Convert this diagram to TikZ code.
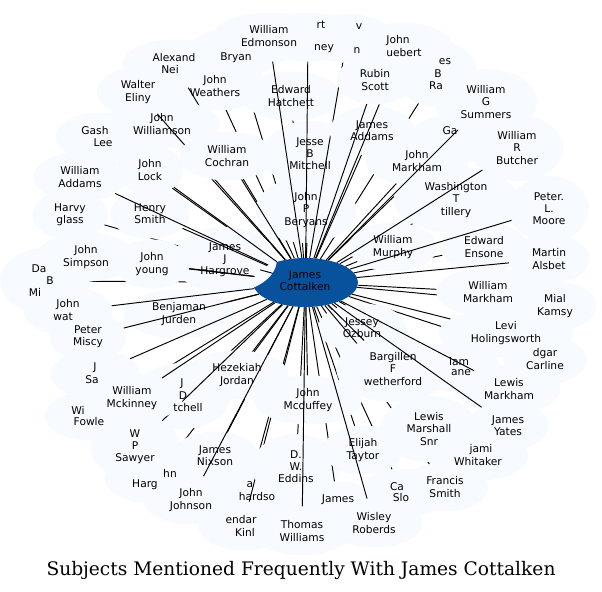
\documentclass[tikz,border=0pt]{standalone}
\usepackage{fontspec}
\usetikzlibrary{shapes.geometric}
\newfontfamily\nf{DejaVu Sans}
\newfontfamily\tf{DejaVu Serif}
\definecolor{bubble}{HTML}{F7FBFF}
\definecolor{hub}{HTML}{08519C}
\begin{document}
\begin{tikzpicture}[x=1bp,y=-1bp,
  bub/.style n args={2}{ellipse,fill=bubble,inner sep=0pt,minimum width=#1bp,minimum height=#2bp},
  hubnode/.style={ellipse,fill=hub,inner sep=0pt,minimum width=105bp,minimum height=49bp},
  lnk/.style={line width=0.95bp,black},
  lbl/.style={font=\nf\fontsize{10.7}{12.2}\selectfont,align=center,inner sep=0pt,text=black},
  ttl/.style={font=\tf\fontsize{18.7}{22}\selectfont,inner sep=0pt}]
\fill[white] (0,0) rectangle (602,592);
\useasboundingbox (0,0) rectangle (602,592);
% centre
\node[hubnode] (c) at (305.5,282.5) {};
% ---- early nodes (edges mostly hidden) ----
\node[bub={96.4}{49}] (bry) at (236,52) {};   \draw[lnk] (c) -- (bry);
\node[bub={99.3}{49}] (hat) at (291,96) {};   \draw[lnk] (c) -- (hat);
\node[bub={104.9}{49}] (wea) at (215,86) {};  \draw[lnk] (c) -- (wea);
\node[bub={80.9}{66}] (ray) at (437,74) {};   \draw[lnk] (c) -- (ray);
\node[bub={89}{49}] (ga) at (452,140) {};     \draw[lnk] (c) -- (ga);
\node[bub={103.5}{49}] (ale) at (174,64) {};  \draw[lnk] (c) -- (ale);
\node[bub={75.2}{49}] (hgl) at (70,215) {};   \draw[lnk] (c) -- (hgl);
\node[bub={89}{66}] (dab) at (45,281) {};     \draw[lnk] (c) -- (dab);
\node[bub={113.4}{66}] (ric) at (250,485) {}; \draw[lnk] (c) -- (ric);
\node[bub={89}{49}] (ken) at (243,526) {};    \draw[lnk] (c) -- (ken);
\node[bub={88}{66}] (edd) at (296,467) {};    \draw[lnk] (c) -- (edd);
\node[bub={81}{49}] (jam) at (338,506) {};    \draw[lnk] (c) -- (jam);
\node[bub={89}{49}] (csl) at (403,493) {};    \draw[lnk] (c) -- (csl);
\node[bub={79.5}{49}] (eli) at (363,450) {};  \draw[lnk] (c) -- (eli);
\node[bub={86.5}{49}] (fra) at (445,487) {};  \draw[lnk] (c) -- (fra);
\node[bub={100.7}{49}] (whi) at (478,456) {}; \draw[lnk] (c) -- (whi);
\node[bub={83.7}{49}] (mia) at (555,306) {};  \draw[lnk] (c) -- (mia);
\node[bub={83.7}{49}] (car) at (545,360) {};  \draw[lnk] (c) -- (car);
\node[bub={88}{49}] (ens) at (484,247) {};    \draw[lnk] (c) -- (ens);
\node[bub={88}{49}] (lan) at (455,367) {};    \draw[lnk] (c) -- (lan);
\node[bub={89}{49}] (fow) at (89,416) {};     \draw[lnk] (c) -- (fow);
\node[bub={100.7}{49}] (jha) at (155,479) {}; \draw[lnk] (c) -- (jha);
\node[bub={95}{66}] (jbm) at (310,154) {};    \draw[lnk] (c) -- (jbm);
\node[bub={100.7}{66}] (ber) at (306,210) {}; \draw[lnk] (c) -- (ber);
\node[bub={89}{49}] (gas) at (100,137) {};    \draw[lnk] (c) -- (gas);
% ---- middle nodes ----
\node[bub={89.4}{49}] (vn) at (347,38) {};    \draw[lnk] (c) -- (vn);
\node[bub={85.1}{49}] (add) at (372,131) {};  \draw[lnk] (c) -- (add);
\node[bub={116.2}{49}] (wil) at (162,124) {}; \draw[lnk] (c) -- (wil);
\node[bub={82.3}{49}] (wel) at (138,92) {};   \draw[lnk] (c) -- (wel);
\node[bub={95}{49}] (coc) at (227,156) {};    \draw[lnk] (c) -- (coc);
\node[bub={103.5}{66}] (har) at (225,260) {}; \draw[lnk] (c) -- (har);
\node[bub={110.6}{49}] (jur) at (179,314) {}; \draw[lnk] (c) -- (jur);
\node[bub={96.4}{66}] (jdm) at (182,396) {};  \draw[lnk] (c) -- (jdm);
\node[bub={85.1}{49}] (nix) at (215,456) {};  \draw[lnk] (c) -- (nix);
\node[bub={107.7}{49}] (mcd) at (308,400) {}; \draw[lnk] (c) -- (mcd);
\node[bub={88}{49}] (jes) at (362,328) {};    \draw[lnk] (c) -- (jes);
\node[bub={97.9}{66}] (lms) at (429,429) {};  \draw[lnk] (c) -- (lms);
\node[bub={103.5}{49}] (jmk) at (417,161) {}; \draw[lnk] (c) -- (jmk);
\node[bub={124.7}{66}] (was) at (456,200) {}; \draw[lnk] (c) -- (was);
\node[bub={103.5}{49}] (wmk) at (488,292) {}; \draw[lnk] (c) -- (wmk);
\node[bub={134.6}{49}] (lev) at (506,333) {}; \draw[lnk] (c) -- (lev);
\node[bub={113.4}{66}] (bar) at (393,369) {}; \draw[lnk] (c) -- (bar);
\node[bub={88}{49}] (mur) at (393,247) {};    \draw[lnk] (c) -- (mur);
\node[bub={99.3}{49}] (sim) at (86,257) {};   \draw[lnk] (c) -- (sim);
\node[bub={79.5}{49}] (hsm) at (150,214) {};  \draw[lnk] (c) -- (hsm);
\node[bub={66.7}{49}] (loc) at (150,170) {};  \draw[lnk] (c) -- (loc);
% ---- late nodes (edges mostly visible) ----
\node[bub={99.3}{49}] (hue) at (403,47) {};   \draw[lnk] (c) -- (hue);
\node[bub={76.6}{49}] (rub) at (375,80) {};   \draw[lnk] (c) -- (rub);
\node[bub={113.4}{49}] (edm) at (269,37) {};  \draw[lnk] (c) -- (edm);
\node[bub={107.7}{49}] (rtn) at (308,37) {};  \draw[lnk] (c) -- (rtn);
\node[bub={102}{66}] (sum) at (486,102) {};   \draw[lnk] (c) -- (sum);
\node[bub={92.2}{66}] (but) at (517,148) {};  \draw[lnk] (c) -- (but);
\node[bub={79.5}{66}] (pmo) at (549,209) {};  \draw[lnk] (c) -- (pmo);
\node[bub={81}{49}] (als) at (549,259) {};    \draw[lnk] (c) -- (als);
\node[bub={103.5}{49}] (lmk) at (509,389) {}; \draw[lnk] (c) -- (lmk);
\node[bub={81}{49}] (yat) at (508,426) {};    \draw[lnk] (c) -- (yat);
\node[bub={96.4}{49}] (wis) at (374,523) {};  \draw[lnk] (c) -- (wis);
\node[bub={96.4}{49}] (tho) at (302,531) {};  \draw[lnk] (c) -- (tho);
\node[bub={103.5}{49}] (hez) at (237,375) {}; \draw[lnk] (c) -- (hez);
\node[bub={95}{49}] (joh) at (191,500) {};    \draw[lnk] (c) -- (joh);
\node[bub={89}{66}] (saw) at (135,447) {};    \draw[lnk] (c) -- (saw);
\node[bub={102}{49}] (mck) at (132,398) {};   \draw[lnk] (c) -- (mck);
\node[bub={76.6}{49}] (mis) at (88,337) {};   \draw[lnk] (c) -- (mis);
\node[bub={89}{49}] (jsa) at (95,374) {};     \draw[lnk] (c) -- (jsa);
\node[bub={89}{49}] (wat) at (68,311) {};     \draw[lnk] (c) -- (wat);
\node[bub={75.2}{49}] (you) at (152,264) {};  \draw[lnk] (c) -- (you);
\node[bub={93.6}{49}] (wad) at (80,177) {};   \draw[lnk] (c) -- (wad);
% ---- texts ----
\node[lbl] (tc) at (305,281) {James\\Cottalken};
\node[lbl] (tedm) at (269,36) {William\\Edmonson};
\node[lbl] (trt) at (321,25) {rt};
\node[lbl] (tney) at (324,49) {ney};
\node[lbl] (tv) at (359,27) {v};
\node[lbl] (tn) at (357,51) {n};
\node[lbl] (tjh) at (398,41) {John};
\node[lbl] (tueb) at (404,53) {uebert};
\node[lbl] (tes) at (445,62) {es};
\node[lbl] (tbb) at (438,74) {B};
\node[lbl] (tra) at (436,86) {Ra};
\node[lbl] (trub) at (375,80) {Rubin\\Scott};
\node[lbl] (tsum) at (486,102) {William\\G\\Summers};
\node[lbl] (tga) at (450,131) {Ga};
\node[lbl] (tbut) at (517,148) {William\\R\\Butcher};
\node[lbl] (tadd) at (372,131) {James\\Addams};
\node[lbl] (tjmk) at (417,161) {John\\Markham};
\node[lbl] (twas) at (456,200) {Washington\\T\\tillery};
\node[lbl] (tpmo) at (549,209) {Peter.\\L.\\Moore};
\node[lbl] (tens) at (484,247) {Edward\\Ensone};
\node[lbl] (tals) at (549,259) {Martin\\Alsbet};
\node[lbl] (tmur) at (393,247) {William\\Murphy};
\node[lbl] (twmk) at (488,292) {William\\Markham};
\node[lbl] (tmia) at (555,306) {Mial\\Kamsy};
\node[lbl] (tlev) at (506,333) {Levi\\Holingsworth};
\node[lbl] (tjes) at (362,328) {Jessey\\Ozburn};
\node[lbl] (tcar1) at (545,354) {dgar};
\node[lbl] (tcar2) at (545,366) {Carline};
\node[lbl] (tbar) at (393,369) {Bargillen\\F\\wetherford};
\node[lbl] (tlan1) at (459,362) {iam};
\node[lbl] (tlan2) at (461,373) {ane};
\node[lbl] (tlmk) at (509,389) {Lewis\\Markham};
\node[lbl] (tyat) at (508,426) {James\\Yates};
\node[lbl] (tlms) at (429,429) {Lewis\\Marshall\\Snr};
\node[lbl] (twhi1) at (481,450) {jami};
\node[lbl] (twhi2) at (478,462) {Whitaker};
\node[lbl] (teli) at (363,450) {Elijah\\Taytor};
\node[lbl] (tfra) at (445,487) {Francis\\Smith};
\node[lbl] (tcs1) at (397,487) {Ca};
\node[lbl] (tcs2) at (401,498) {Slo};
\node[lbl] (twis) at (374,523) {Wisley\\Roberds};
\node[lbl] (tjam) at (338,500) {James};
\node[lbl] (ttho) at (302,531) {Thomas\\Williams};
\node[lbl] (tmcd) at (308,400) {John\\Mcduffey};
\node[lbl] (tedd) at (296,467) {D.\\W.\\Eddins};
\node[lbl] (thez) at (237,375) {Hezekiah\\Jordan};
\node[lbl] (tjd1) at (182,384) {J};
\node[lbl] (tjd2) at (183,396) {D};
\node[lbl] (tjd3) at (188,408) {tchell};
\node[lbl] (tmck) at (132,398) {William\\Mckinney};
\node[lbl] (tfo1) at (78,410) {Wi};
\node[lbl] (tfo2) at (89,422) {Fowle};
\node[lbl] (tsaw) at (135,447) {W\\P\\Sawyer};
\node[lbl] (tjh1) at (170,473) {hn};
\node[lbl] (tjh2) at (145,485) {Harg};
\node[lbl] (tnix) at (215,456) {James\\Nixson};
\node[lbl] (tri1) at (250,485) {a};
\node[lbl] (tri2) at (257,497) {hardso};
\node[lbl] (tjoh) at (191,500) {John\\Johnson};
\node[lbl] (tke1) at (241,520) {endar};
\node[lbl] (tke2) at (245,532) {Kinl};
\node[lbl] (tjur) at (179,314) {Benjaman\\Jurden};
\node[lbl] (tmis) at (88,337) {Peter\\Miscy};
\node[lbl] (tsa1) at (95,368) {J};
\node[lbl] (tsa2) at (92,380) {Sa};
\node[lbl] (twa1) at (68,305) {John};
\node[lbl] (twa2) at (63,317) {wat};
\node[lbl] (tda1) at (39,269) {Da};
\node[lbl] (tda2) at (50,281) {B};
\node[lbl] (tda3) at (35,292) {Mi};
\node[lbl] (tsim) at (86,257) {John\\Simpson};
\node[lbl] (tyou) at (152,264) {John\\young};
\node[lbl] (thar) at (225,260) {James\\J\\Hargrove};
\node[lbl] (thgl) at (70,215) {Harvy\\glass};
\node[lbl] (thsm) at (150,214) {Henry\\Smith};
\node[lbl] (twad) at (80,177) {William\\Addams};
\node[lbl] (tloc) at (150,170) {John\\Lock};
\node[lbl] (tgs1) at (95,131) {Gash};
\node[lbl] (tgs2) at (103,143) {Lee};
\node[lbl] (twil) at (162,124) {John\\Williamson};
\node[lbl] (twel) at (138,92) {Walter\\Eliny};
\node[lbl] (tal1) at (174,58) {Alexand};
\node[lbl] (tal2) at (170,70) {Nei};
\node[lbl] (tbry) at (236,58) {Bryan};
\node[lbl] (twea) at (215,86) {John\\Weathers};
\node[lbl] (that) at (291,96) {Edward\\Hatchett};
\node[lbl] (tcoc) at (227,156) {William\\Cochran};
\node[lbl] (tjbm) at (310,154) {Jesse\\B\\Mitchell};
\node[lbl] (tber) at (306,210) {John\\P\\Beryans};
% title
\node[ttl] (title) at (301,570) {Subjects Mentioned Frequently With James Cottalken};
\end{tikzpicture}
\end{document}
